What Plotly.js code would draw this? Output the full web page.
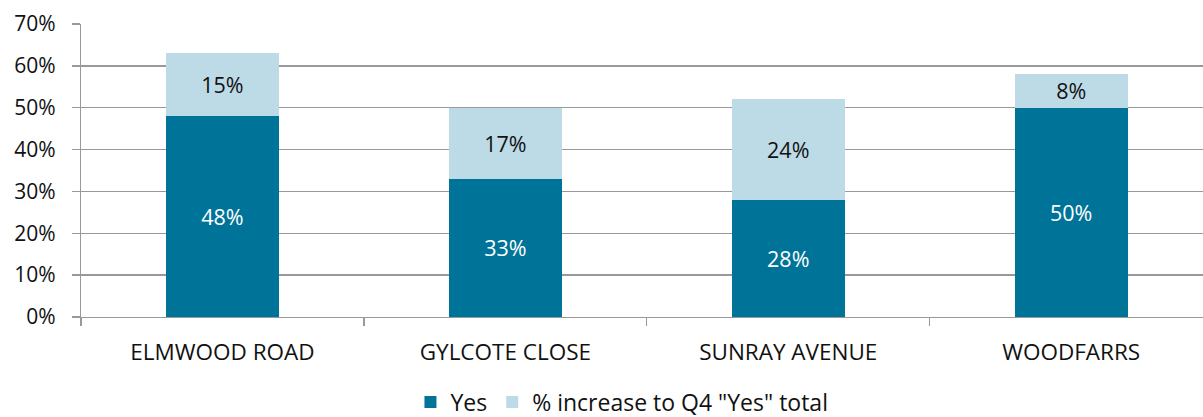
<!DOCTYPE html>
<html>
<head>
<meta charset="utf-8">
<script src="https://cdn.plot.ly/plotly-3.0.1.min.js"></script>
<style>html,body{margin:0;padding:0;background:#fff;}#chart{width:1203px;height:417px;}</style>
</head>
<body>
<div id="chart"></div>
<script>
const categories = ["ELMWOOD ROAD", "GYLCOTE CLOSE", "SUNRAY AVENUE", "WOODFARRS"];
const yesValues = [48, 33, 28, 50];
const increaseValues = [15, 17, 24, 8];
const seriesNames = ["Yes", "% increase to Q4 \"Yes\" total"];
const yTickVals = [0, 10, 20, 30, 40, 50, 60, 70];
const yTickText = yTickVals.map(v => v + "%");

const font = "'Open Sans', sans-serif";
const gridColor = "#999999";

const traces = [
  {
    type: "bar", name: seriesNames[0], x: categories, y: yesValues,
    width: 0.4,
    marker: {color: "#007399"},
    text: yesValues.map(v => v + "%"),
    textposition: "inside", insidetextanchor: "middle", constraintext: "none",
    textfont: {color: "#ffffff", size: 21.5, family: font},
    hoverinfo: "skip"
  },
  {
    type: "bar", name: seriesNames[1], x: categories, y: increaseValues,
    width: 0.4,
    marker: {color: "#bddbe7"},
    text: increaseValues.map(v => v + "%"),
    textposition: "inside", insidetextanchor: "middle", constraintext: "none",
    textfont: {color: "#111111", size: 21.5, family: font},
    hoverinfo: "skip"
  }
];

const layout = {
  width: 1203, height: 417,
  margin: {l: 81, r: 0, t: 24, b: 100, autoexpand: false},
  barmode: "stack",
  paper_bgcolor: "#fff", plot_bgcolor: "#fff",
  font: {family: font, size: 20, color: "#111"},
  showlegend: true,
  legend: {orientation: "h", xref: "container", yref: "container",
           x: 0.517, xanchor: "center", y: 0.036, yanchor: "middle",
           font: {size: 23, color: "#111", family: font}, traceorder: "normal",
           itemwidth: 30, tracegroupgap: 0},
  xaxis: {
    type: "category",
    range: [-0.5, 3.466],
    tickson: "boundaries", ticks: "outside", ticklen: 8, tickcolor: gridColor, tickwidth: 1.3,
    showline: true, linecolor: gridColor, linewidth: 1.3,
    showgrid: false, zeroline: false,
    ticklabelstandoff: 15,
    tickfont: {size: 22.5, family: font, color: "#111"},
    fixedrange: true
  },
  yaxis: {
    range: [0, 70],
    tickmode: "array", tickvals: yTickVals, ticktext: yTickText,
    ticks: "outside", ticklen: 8, tickcolor: gridColor, tickwidth: 1.3,
    showgrid: true, gridcolor: gridColor, gridwidth: 1.3,
    showline: true, linecolor: gridColor, linewidth: 1.3,
    zeroline: false,
    ticklabelstandoff: 12,
    tickfont: {size: 21, family: font, color: "#111"},
    fixedrange: true
  }
};

Plotly.newPlot("chart", traces, layout, {displayModeBar: false, staticPlot: true});
</script>
</body>
</html>
